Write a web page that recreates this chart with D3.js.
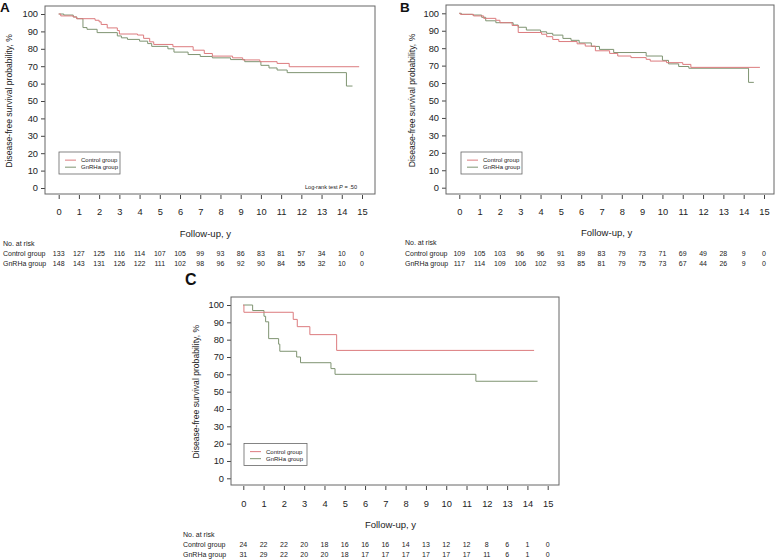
<!DOCTYPE html>
<html><head><meta charset="utf-8">
<script src="https://cdn.jsdelivr.net/npm/d3@7"></script>
<style>
body{margin:0;background:#fff;}
svg{display:block;font-family:"Liberation Sans",Arial,sans-serif;}
</style></head>
<body><svg id="chart" width="776" height="559"></svg>
<script>
// ---------- DATA ----------
const followUpTicks = [0,1,2,3,4,5,6,7,8,9,10,11,12,13,14,15];
const survivalTicks = [0,10,20,30,40,50,60,70,80,90,100];
const seriesNames = ["Control group","GnRHa group"];

// Panel A
const aControlT = [0,0.1,0.72,0.88,1.8,2.0,2.1,2.4,2.9,3.0,3.9,4.2,4.5,4.7,5.65,6.65,7.2,7.6,8.6,9.1,9.95,10.8,11.4,14.86];
const aControlS = [100,98.9,98.3,97.3,96.4,95.5,94,92,90.5,88.5,87.9,86,84,82.5,81.2,79.2,77.3,75.8,74.8,73.6,72.6,71.6,69.7,69.7];
const aGnrhaT  = [0,0.25,0.72,0.9,1.2,1.4,1.9,2.9,3.1,3.4,4.0,4.4,4.6,5.4,5.7,6.4,7.0,7.6,8.5,9.2,10.0,10.4,10.8,11.3,14.23,14.53];
const aGnrhaS  = [100,99.4,98.3,97.3,92.2,91.2,89.3,87.4,86.3,85.4,84.4,83,81.4,80,78.1,76.7,75.6,74.8,73.8,72.6,70.5,69,67.8,66.3,58.6,58.6];
const aRiskControl = [133,127,125,116,114,107,105,99,93,86,83,81,57,34,10,0];
const aRiskGnrha   = [148,143,131,126,122,111,102,98,96,92,90,84,55,32,10,0];

// Panel B
const bControlT = [0,0.05,0.7,1.2,1.8,2.0,2.6,2.9,4.05,4.3,4.6,4.9,5.8,6.2,6.7,7.4,7.8,8.45,9.2,9.4,10.2,11.0,11.4,14.8];
const bControlS = [100,99.4,98.5,97.1,96,94.6,93,89,88,86.6,85,83.8,82.5,81.2,78.5,77,75.5,74.6,73.6,72.6,71.7,70.7,69,69];
const bGnrhaT  = [0,0.1,0.65,1.1,1.3,1.8,2.65,2.9,3.3,4.0,4.3,4.6,5.1,5.5,5.9,6.5,6.9,7.6,9.2,10.0,10.3,10.8,11.3,14.24,14.5];
const bGnrhaS  = [100,99.4,99,97.7,95.7,94.6,93.3,92,90.4,89.4,88.5,87.5,85.6,84.5,83,81,79.3,77.5,75.5,73,71,69.5,68.5,60.4,60.4];
const bRiskControl = [109,105,103,96,96,91,89,83,79,73,71,69,49,28,9,0];
const bRiskGnrha   = [117,114,109,106,102,93,85,81,79,75,73,67,44,26,9,0];

// Panel C
const cControlT = [0,0.03,2.46,2.66,3.28,4.6,14.33];
const cControlS = [100,95.8,91.7,87.5,82.9,73.8,73.8];
const cGnrhaT  = [0,0.46,1.02,1.1,1.25,1.74,1.8,2.63,2.82,4.32,4.52,11.46,14.5];
const cGnrhaS  = [100,96.8,93.5,90.3,80.6,77.4,73.3,70,66.7,63.3,60,56,56];
const cRiskControl = [24,22,22,20,18,16,16,16,14,13,12,12,8,6,1,0];
const cRiskGnrha   = [31,29,22,20,20,18,17,17,17,17,17,17,11,6,1,0];

// ---------- STYLE / LAYOUT ----------
const colors = {control:"#dc7b7e", gnrha:"#7f9472"};
const svg = d3.select("#chart");

function drawPanel(p){
  const g = svg.append("g");
  const x = d3.scaleLinear().domain([0,15]).range([p.xr0,p.xr1]);
  const y = d3.scaleLinear().domain([0,100]).range([p.yr0,p.yr1]);

  const ya = g.append("g").attr("transform",`translate(${p.bx0},0)`)
    .call(d3.axisLeft(y).tickValues(survivalTicks).tickSize(4).tickPadding(3));
  ya.select(".domain").remove();
  ya.selectAll("line").attr("stroke","#444");
  ya.selectAll("text").attr("font-size",9.3).attr("fill","#222").attr("font-family","Liberation Sans, Arial, sans-serif");

  const xa = g.append("g").attr("transform",`translate(0,${p.by1+1})`)
    .call(d3.axisBottom(x).tickValues(followUpTicks).tickSize(4).tickPadding(p.xpad));
  xa.select(".domain").remove();
  xa.selectAll("line").attr("stroke","#444");
  xa.selectAll("text").attr("font-size",9.3).attr("fill","#222").attr("font-family","Liberation Sans, Arial, sans-serif");

  g.append("rect").attr("x",p.bx0).attr("y",p.by0).attr("width",p.bx1-p.bx0).attr("height",p.by1-p.by0)
    .attr("fill","none").attr("stroke","#666").attr("stroke-width",1);

  const line = d3.line().x(d=>x(d[0])).y(d=>y(d[1])).curve(d3.curveStepAfter);
  const sets = [
    {t:p.gT,s:p.gS,c:colors.gnrha},
    {t:p.cT,s:p.cS,c:colors.control}
  ];
  sets.forEach(se=>{
    const pts = se.t.map((t,i)=>[t,se.s[i]]);
    g.append("path").datum(pts).attr("d",line).attr("fill","none")
      .attr("stroke",se.c).attr("stroke-width",1);
  });

  g.append("text").attr("x",(p.xr0+p.xr1)/2-5).attr("y",p.fuY)
    .attr("text-anchor","middle").attr("font-size",9.5).attr("fill","#222").text("Follow-up, y");
  g.append("text").attr("transform",`translate(${p.ytX},${(p.yr0+p.yr1)/2}) rotate(-90)`)
    .attr("text-anchor","middle").attr("font-size",8.6).attr("fill","#222")
    .text("Disease-free survival probability, %");

  const L = p.leg;
  g.append("rect").attr("x",L.x).attr("y",L.y).attr("width",L.w).attr("height",L.h)
    .attr("fill","#fff").attr("stroke","#666").attr("stroke-width",0.8);
  [[seriesNames[0],colors.control],[seriesNames[1],colors.gnrha]].forEach((d,i)=>{
    const yy = L.y + L.h*0.37 + i*L.h*0.32;
    g.append("line").attr("x1",L.x+6).attr("x2",L.x+17).attr("y1",yy).attr("y2",yy)
      .attr("stroke",d[1]).attr("stroke-width",1);
    g.append("text").attr("x",L.x+22).attr("y",yy+2).attr("font-size",6).attr("fill","#222").text(d[0]);
  });

  g.append("text").attr("x",p.letX).attr("y",p.letY).attr("font-size",p.letSize).attr("font-weight","bold")
    .attr("fill","#111").text(p.letter);

  g.append("text").attr("x",p.rtX).attr("y",p.rtY).attr("font-size",7).attr("fill","#222").text("No. at risk");
  [[seriesNames[0],p.riskC],[seriesNames[1],p.riskG]].forEach((r,i)=>{
    const yy = p.rtY + 10.7 + i*p.rtGap;
    g.append("text").attr("x",p.rtX).attr("y",yy).attr("font-size",7).attr("fill","#222").text(r[0]);
    g.selectAll(null).data(r[1]).enter().append("text")
      .attr("x",(d,j)=>x(followUpTicks[j])).attr("y",yy)
      .attr("text-anchor","middle").attr("font-size",7).attr("fill","#222").text(d=>d);
  });
  return {g,x,y};
}

const A = drawPanel({
  bx0:45,bx1:375,by0:6,by1:194, xr0:58.7,xr1:362, yr0:188,yr1:14,
  xpad:9.8, fuY:236.5, ytX:12,
  leg:{x:59,y:152,w:61,h:22},
  letter:"A",letX:0,letY:12,letSize:13.5,
  rtX:3,rtY:245.5,rtGap:10,
  cT:aControlT,cS:aControlS,gT:aGnrhaT,gS:aGnrhaS,riskC:aRiskControl,riskG:aRiskGnrha
});
A.g.append("text").attr("x",357).attr("y",188.8).attr("text-anchor","end").attr("font-size",5.6).attr("fill","#222")
  .html('Log-rank test <tspan font-style="italic">P</tspan> = .50');

drawPanel({
  bx0:446,bx1:774,by0:5,by1:194, xr0:459.3,xr1:764, yr0:187.7,yr1:13.3,
  xpad:9, fuY:236, ytX:415,
  leg:{x:461,y:152,w:61,h:22},
  letter:"B",letX:400,letY:12,letSize:13.5,
  rtX:405,rtY:245,rtGap:10,
  cT:bControlT,cS:bControlS,gT:bGnrhaT,gS:bGnrhaS,riskC:bRiskControl,riskG:bRiskGnrha
});

drawPanel({
  bx0:231,bx1:559,by0:297,by1:485, xr0:243.3,xr1:547.7, yr0:478.3,yr1:305,
  xpad:10.5, fuY:527.5, ytX:199,
  leg:{x:244,y:443.5,w:63,h:22},
  letter:"C",letX:185,letY:284.5,letSize:16,
  rtX:183,rtY:536.5,rtGap:9.3,
  cT:cControlT,cS:cControlS,gT:cGnrhaT,gS:cGnrhaS,riskC:cRiskControl,riskG:cRiskGnrha
});
</script></body></html>
